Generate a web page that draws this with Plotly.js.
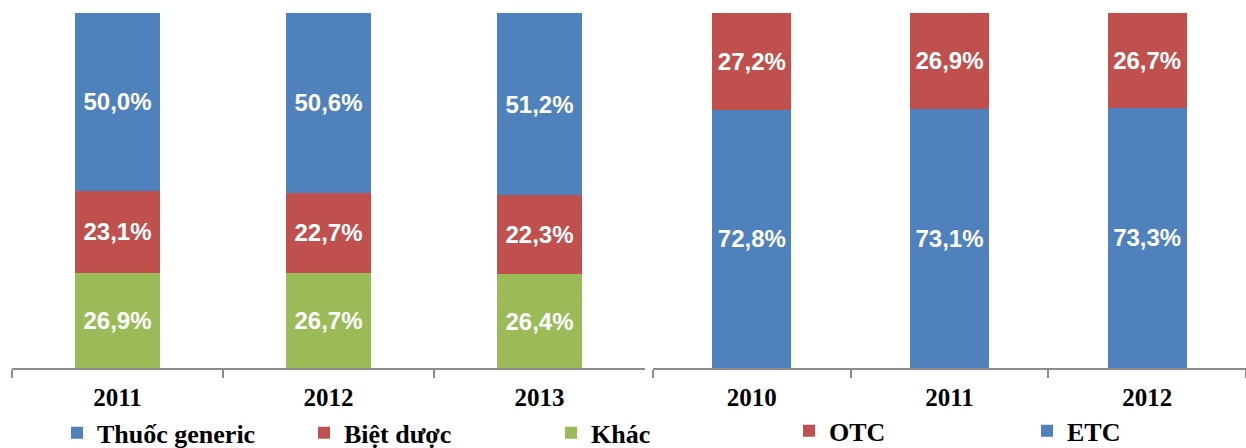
<!DOCTYPE html>
<html>
<head>
<meta charset="utf-8">
<script src="https://cdn.plot.ly/plotly-3.0.1.min.js"></script>
<style>html,body{margin:0;padding:0;background:#fff;}#chart{width:1246px;height:448px;}</style>
</head>
<body>
<div id="chart"></div>
<script>
// Left chart: structure by drug type
var yearsLeft = ['2011', '2012', '2013'];
var khac = [26.9, 26.7, 26.4];
var bietDuoc = [23.1, 22.7, 22.3];
var thuocGeneric = [50.0, 50.6, 51.2];

// Right chart: ETC / OTC
var yearsRight = ['2010', '2011', '2012'];
var etc = [72.8, 73.1, 73.3];
var otc = [27.2, 26.9, 26.7];

var BLUE = '#4F81BD', RED = '#C0504D', GREEN = '#9BBB59';
var labelFont = {family: 'Liberation Sans, Arial, sans-serif', size: 24, color: '#ffffff', weight: 'bold'};

function bar(name, x, y, color, xa, ya, legend) {
  return {
    type: 'bar', name: name, x: x, y: y,
    xaxis: xa, yaxis: ya, legend: legend,
    marker: {color: color, line: {width: 0}},
    texttemplate: '%{y:.1f}%', textposition: 'inside', insidetextanchor: 'middle',
    textangle: 0, constraintext: 'none',
    insidetextfont: labelFont, hoverinfo: 'skip'
  };
}

var data = [
  bar('Khác', yearsLeft, khac, GREEN, 'x', 'y', 'legend'),
  bar('Biệt dược', yearsLeft, bietDuoc, RED, 'x', 'y', 'legend'),
  bar('Thuốc generic', yearsLeft, thuocGeneric, BLUE, 'x', 'y', 'legend'),
  bar('ETC', yearsRight, etc, BLUE, 'x2', 'y2', 'legend2'),
  bar('OTC', yearsRight, otc, RED, 'x2', 'y2', 'legend2')
];

var W = 1246;
var tickFont = {family: 'Liberation Serif, Times New Roman, serif', size: 25, color: '#000', weight: 'bold'};
var legFont = {family: 'Liberation Serif, Times New Roman, serif', size: 26, color: '#000', weight: 'bold'};

function xaxis(d0, d1, anchor) {
  return {
    domain: [d0 / W, d1 / W], anchor: anchor, type: 'category',
    showline: true, linecolor: '#8c8c8c', linewidth: 2,
    ticks: 'outside', tickson: 'boundaries', ticklen: 8, tickwidth: 2, tickcolor: '#8c8c8c',
    tickfont: tickFont, ticklabelstandoff: 6, showgrid: false, zeroline: false, fixedrange: true,
    automargin: false
  };
}
function yaxis(anchor) {
  return {range: [0, 100], visible: false, anchor: anchor, fixedrange: true};
}

var layout = {
  width: 1246, height: 448,
  margin: {l: 0, r: 0, t: 13, b: 80, autoexpand: false},
  paper_bgcolor: '#fff', plot_bgcolor: '#fff',
  separators: ', ',
  barmode: 'stack', bargap: 0.6,
  showlegend: true,
  xaxis: xaxis(12, 645, 'y'),
  yaxis: yaxis('x'),
  xaxis2: xaxis(653, 1246, 'y2'),
  yaxis2: yaxis('x2'),
  legend: {
    orientation: 'h', traceorder: 'reversed', font: legFont,
    x: 57 / W, xanchor: 'left', y: -0.183, yanchor: 'middle',
    entrywidth: 202, entrywidthmode: 'pixels', bgcolor: 'rgba(0,0,0,0)'
  },
  legend2: {
    orientation: 'h', traceorder: 'reversed', font: legFont,
    x: 789 / W, xanchor: 'left', y: -0.177, yanchor: 'middle',
    entrywidth: 193, entrywidthmode: 'pixels', bgcolor: 'rgba(0,0,0,0)'
  }
};

Plotly.newPlot('chart', data, layout, {displayModeBar: false, staticPlot: true});
</script>
</body>
</html>
